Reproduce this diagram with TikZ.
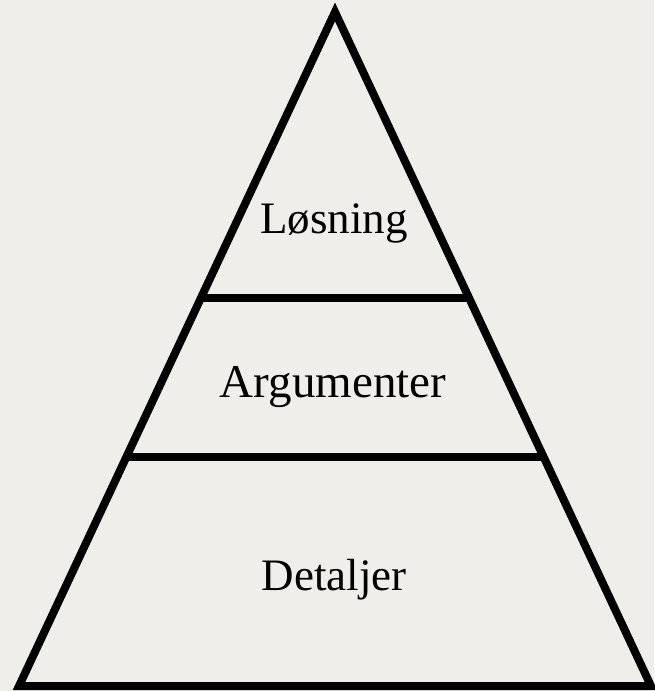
\documentclass[tikz,border=0pt]{standalone}
\usepackage{fontspec}
\setmainfont{Liberation Serif}
\definecolor{paper}{RGB}{239,238,234}

\begin{document}
\begin{tikzpicture}
[x=1pt,y=-1pt,%
  every node/.style={font=\fontsize{45}{54}\selectfont,anchor=base,inner sep=0pt},%
  edge/.style={line width=8pt,line join=miter}]
\fill[paper] (0,0) rectangle (654,691);
\useasboundingbox (0,0) rectangle (654,691);
% corners
\coordinate (top) at (335,12);
\coordinate (bl) at (19,686);
\coordinate (br) at (651,686);
% ends of the dividers
\coordinate (l1) at (201,298);
\coordinate (r1) at (469,298);
\coordinate (l2) at (126,457);
\coordinate (r2) at (544,457);
\draw[edge] (top) -- (bl) -- (br) -- cycle;
\draw[edge] (l1) -- (r1);
\draw[edge] (l2) -- (r2);
\node (losning) at (334,233) {Løsning};
\node[font=\fontsize{47}{56}\selectfont] (argumenter) at (333,397) {Argumenter};
\node (detaljer) at (334,590) {Detaljer};
\end{tikzpicture}
\end{document}
